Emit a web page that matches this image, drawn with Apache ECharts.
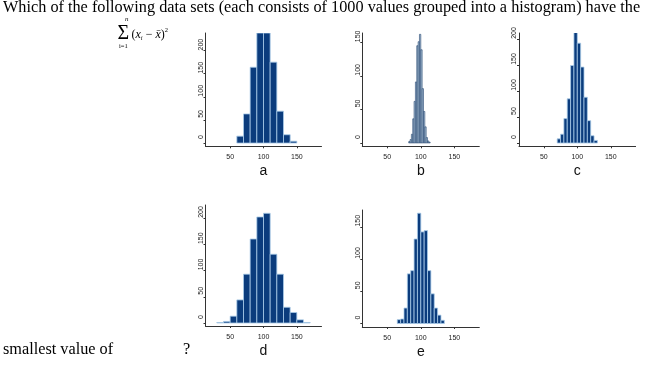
<!DOCTYPE html>
<html><head><meta charset="utf-8">
<script src="https://cdn.jsdelivr.net/npm/echarts@6/dist/echarts.min.js"></script>
<style>html,body{margin:0;padding:0;background:#fff}#c{width:653px;height:365px}</style>
</head><body><div id="c"></div>
<script>
// ---- data ----
const panelNames = ['a', 'b', 'c', 'd', 'e'];
const edgesA = [60, 70, 80, 90, 100, 110, 120, 130, 140, 150];
const countsA = [15, 63, 164, 238, 238, 175, 69, 18, 4];
const edgesB = [82, 84, 86, 88, 90, 92, 94, 96, 98, 100, 102, 104, 106, 108, 110, 112, 114];
const countsB = [2, 5, 13, 36, 62, 91, 145, 151, 162, 139, 81, 47, 24, 8, 3, 1];
const edgesC = [70, 75, 80, 85, 90, 95, 100, 105, 110, 115, 120, 125, 130];
const countsC = [8, 17, 47, 85, 149, 213, 192, 146, 88, 43, 14, 5];
const edgesD = [30, 40, 50, 60, 70, 80, 90, 100, 110, 120, 130, 140, 150, 160, 170];
const countsD = [1, 3, 13, 44, 93, 160, 202, 209, 131, 93, 30, 20, 6, 1];
const edgesE = [65, 70, 75, 80, 85, 90, 95, 100, 105, 110, 115, 120, 125, 130, 135];
const countsE = [6, 7, 24, 77, 82, 131, 171, 142, 144, 82, 46, 24, 13, 5];
const xTicks = [50, 100, 150];
const yTicksA = [0, 50, 100, 150, 200];
const yTicksB = [0, 50, 100, 150];
const yTicksC = [0, 50, 100, 150, 200];
const yTicksD = [0, 50, 100, 150, 200];
const yTicksE = [0, 50, 100, 150];
const titleText = 'Which of the following data sets (each consists of 1000 values grouped into a histogram) have the';
const bottomText = 'smallest value of';

// ---- layout / style ----
const panels = [
  {edges: edgesA, counts: countsA, yTicks: yTicksA},
  {edges: edgesB, counts: countsB, yTicks: yTicksB},
  {edges: edgesC, counts: countsC, yTicks: yTicksC},
  {edges: edgesD, counts: countsD, yTicks: yTicksD},
  {edges: edgesE, counts: countsE, yTicks: yTicksE}
];
const dark = {fill: '#0b3c7d', stroke: '#a9cbe9', lw: 0.8};
const light = {fill: '#afc5d9', stroke: '#24456f', lw: 0.6};
const layout = [
  {left: 205.5, top: 33, width: 116, height: 113.3, ymin: -7, ymax: 238, st: dark},
  {left: 362.3, top: 33, width: 117, height: 113.3, ymin: -5, ymax: 164, st: light},
  {left: 519, top: 33, width: 116.6, height: 113.3, ymin: -6.3, ymax: 211.5, st: dark},
  {left: 205.5, top: 205, width: 116, height: 121, ymin: -5.7, ymax: 224.8, st: dark},
  {left: 362.3, top: 210, width: 117, height: 117, ymin: -5.4, ymax: 176, st: dark}
];
const axisCol = '#333';
const sans = 'Liberation Sans';
const serif = 'Liberation Serif';

const chart = echarts.init(document.getElementById('c'), null, {renderer: 'canvas', width: 653, height: 365});

const option = {
  animation: false,
  backgroundColor: '#fff',
  grid: layout.map(L => ({left: L.left, top: L.top, width: L.width, height: L.height, containLabel: false, outerBoundsMode: 'none'})),
  xAxis: layout.map((L, i) => ({
    type: 'value', gridIndex: i, min: 13, max: 187,
    name: panelNames[i], nameLocation: 'middle', nameGap: 18,
    nameTextStyle: {fontFamily: sans, fontSize: 14, color: '#111'},
    axisLine: {show: true, onZero: false, lineStyle: {color: axisCol, width: 1}},
    axisTick: {show: true, length: 2, customValues: xTicks, lineStyle: {color: axisCol}},
    axisLabel: {customValues: xTicks, fontFamily: sans, fontSize: 7, color: '#222', margin: 7.5},
    splitLine: {show: false}
  })),
  yAxis: layout.map((L, i) => ({
    type: 'value', gridIndex: i, min: L.ymin, max: L.ymax,
    axisLine: {show: true, onZero: false, lineStyle: {color: axisCol, width: 1}},
    axisTick: {show: true, length: 2, customValues: panels[i].yTicks, lineStyle: {color: axisCol}},
    axisLabel: {customValues: panels[i].yTicks, rotate: 90, fontFamily: sans, fontSize: 7, color: '#222', margin: 1, padding: [0, 0, 0, 12]},
    splitLine: {show: false}
  })),
  series: panels.map((p, i) => {
    const st = layout[i].st;
    return {
      type: 'custom', xAxisIndex: i, yAxisIndex: i, clip: true,
      data: p.counts.map((c, j) => [p.edges[j], p.edges[j + 1], c]),
      encode: {x: [0, 1], y: 2},
      renderItem: (params, api) => {
        const tl = api.coord([api.value(0), api.value(2)]);
        const br = api.coord([api.value(1), 0]);
        return {type: 'rect', shape: {x: tl[0], y: tl[1], width: br[0] - tl[0], height: br[1] - tl[1]},
          style: {fill: st.fill, stroke: st.stroke, lineWidth: st.lw}};
      }
    };
  }),
  graphic: [
    {type: 'text', left: 3, top: 0, style: {text: titleText, font: '16.25px "Liberation Serif"', fill: '#000'}},
    {type: 'text', x: 3, y: 342, style: {text: bottomText, font: '16.25px "Liberation Serif"', fill: '#000'}},
    {type: 'text', x: 183, y: 342, style: {text: '?', font: '16.25px "Liberation Serif"', fill: '#000'}},
    {type: 'text', x: 117.5, y: 24, style: {text: '\u03A3', font: '20px "Liberation Serif"', fill: '#000'}},
    {type: 'text', x: 125, y: 16, style: {text: 'n', font: 'italic 7px "Liberation Serif"', fill: '#000'}},
    {type: 'text', x: 119, y: 43, style: {text: 'i=1', font: '6.5px "Liberation Serif"', fill: '#000'}},
    {type: 'text', x: 131.5, y: 27, style: {
      text: '{p|(}{i|x}{s|i}{p| \u2212 }{i|x\u0304}{p|)}{t|2}',
      rich: {
        p: {fontFamily: serif, fontSize: 12, fill: '#000', lineHeight: 15},
        i: {fontFamily: serif, fontStyle: 'italic', fontSize: 12, fill: '#000', lineHeight: 15},
        s: {fontFamily: serif, fontStyle: 'italic', fontSize: 6.5, fill: '#000', verticalAlign: 'bottom', lineHeight: 15},
        t: {fontFamily: serif, fontSize: 6.5, fill: '#000', verticalAlign: 'top', lineHeight: 15}
      }
    }}
  ]
};
chart.setOption(option);
</script>
</body></html>
